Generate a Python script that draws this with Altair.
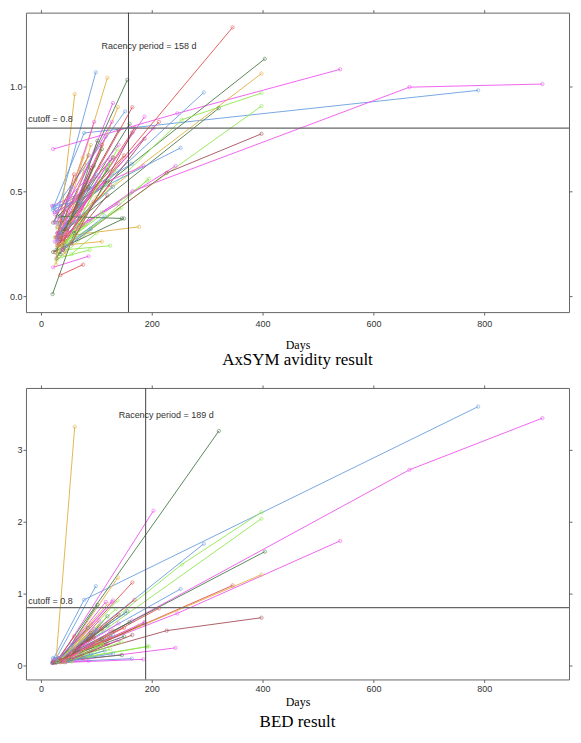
import altair as alt
import pandas as pd

# lattice-like colours
palette = {"B": "#6a9ee0", "M": "#ee55ee", "G": "#4a7a4a", "R": "#e05050",
           "O": "#e0b040", "L": "#8fe84f", "N": "#a34f5a"}

subject_colour = [
    "B", "M", "M", "R", "G", "O", "L", "L", "B", "G",
    "N", "B", "L", "O", "R", "M", "N", "M", "B", "M",
    "L", "B", "O", "O", "G", "M", "O", "R", "B", "M",
    "M", "M", "G", "R", "L", "M", "N", "G", "N", "R",
    "O", "L", "B", "M", "L", "O", "G", "L", "R", "G",
    "L", "B", "M", "B", "R", "O", "N", "G", "M", "L",
    "R", "B", "O", "N", "M", "G", "R", "L", "B", "O",
    "M", "N", "G", "R", "L", "M", "B", "N", "O", "G",
    "R", "M", "L", "B", "N",
]

subject_days = [
    [22, 78, 789], [22, 246, 540], [30, 165, 665, 905], [35, 346], [30, 404],
    [30, 398], [40, 254, 398], [35, 398], [30, 294], [28, 321],
    [30, 227, 398], [25, 252], [28, 195], [25, 177], [35, 213],
    [32, 187], [38, 187], [25, 243], [22, 164], [20, 185],
    [30, 192], [25, 99], [30, 120], [27, 61], [30, 156],
    [32, 130], [35, 139], [35, 165], [25, 152], [30, 96],
    [28, 128], [30, 203], [35, 102], [33, 169], [40, 138],
    [30, 117], [35, 140], [40, 160], [22, 86], [40, 110],
    [30, 75], [45, 125], [35, 130], [22, 86], [40, 125],
    [30, 110], [22, 150], [30, 88], [35, 76], [21, 60, 120],
    [55, 100], [40, 90], [25, 60], [22, 70], [25, 95],
    [35, 105], [40, 120], [30, 85], [45, 140], [50, 145],
    [28, 60], [45, 115], [42, 100], [28, 70], [38, 105],
    [50, 120], [45, 130], [35, 80], [28, 55], [40, 75],
    [33, 140], [45, 90], [35, 146], [30, 125], [55, 110],
    [25, 80], [30, 100], [35, 95], [45, 90], [28, 110],
    [38, 150], [42, 125], [30, 135], [50, 130], [55, 165],
]

avidity = [
    [0.42, 0.777, 0.98], [0.70, 0.87, 1.08], [0.25, 0.50, 0.995, 1.01], [0.30, 1.28], [0.35, 1.13],
    [0.32, 1.06], [0.30, 0.84, 0.967], [0.22, 0.905], [0.33, 0.97], [0.28, 0.895],
    [0.20, 0.587, 0.773], [0.40, 0.706], [0.17, 0.559], [0.28, 0.33], [0.32, 0.83],
    [0.26, 0.855], [0.24, 0.75], [0.26, 0.62], [0.41, 0.63], [0.43, 0.62],
    [0.23, 0.55], [0.35, 1.066], [0.25, 1.04], [0.15, 0.962], [0.30, 1.03],
    [0.28, 0.92], [0.22, 0.90], [0.28, 0.90], [0.42, 0.88], [0.30, 0.83],
    [0.35, 0.83], [0.30, 0.80], [0.20, 0.74], [0.25, 0.80], [0.22, 0.70],
    [0.27, 0.76], [0.29, 0.79], [0.31, 0.82], [0.35, 0.67], [0.26, 0.72],
    [0.33, 0.66], [0.25, 0.63], [0.30, 0.66], [0.137, 0.19], [0.22, 0.24],
    [0.24, 0.26], [0.21, 0.37], [0.18, 0.22], [0.10, 0.15], [0.01, 0.30, 0.55],
    [0.20, 0.30], [0.22, 0.32], [0.39, 0.46], [0.43, 0.45], [0.21, 0.45],
    [0.28, 0.55], [0.22, 0.48], [0.38, 0.52], [0.30, 0.44], [0.26, 0.42],
    [0.28, 0.58], [0.24, 0.38], [0.20, 0.47], [0.18, 0.38], [0.22, 0.57],
    [0.35, 0.60], [0.40, 0.66], [0.24, 0.34], [0.26, 0.52], [0.25, 0.35],
    [0.37, 0.72], [0.32, 0.61], [0.38, 0.37], [0.24, 0.53], [0.28, 0.40],
    [0.40, 0.55], [0.28, 0.58], [0.27, 0.62], [0.30, 0.72], [0.22, 0.70],
    [0.35, 0.67], [0.29, 0.65], [0.20, 0.60], [0.33, 0.52], [0.25, 0.78],
]

bed = [
    [0.08, 0.91, 3.60], [0.05, 0.72, 1.73], [0.05, 0.62, 2.72, 3.44], [0.06, 1.11], [0.07, 1.58],
    [0.05, 1.26], [0.08, 1.40, 2.13], [0.05, 2.04], [0.06, 1.69], [0.05, 3.26],
    [0.05, 0.48, 0.66], [0.08, 1.06], [0.04, 0.26], [0.06, 0.55], [0.06, 0.79],
    [0.05, 0.60], [0.05, 0.58], [0.03, 0.24], [0.04, 0.09], [0.03, 0.08],
    [0.05, 0.26], [0.06, 1.10], [0.07, 0.85], [0.04, 3.32], [0.06, 0.75],
    [0.05, 0.90], [0.06, 1.22], [0.07, 1.15], [0.08, 0.72], [0.05, 0.50],
    [0.06, 0.88], [0.05, 2.15], [0.06, 0.84], [0.06, 0.91], [0.06, 0.90],
    [0.05, 0.88], [0.07, 0.70], [0.07, 0.60], [0.05, 0.35], [0.06, 0.50],
    [0.05, 0.40], [0.06, 0.45], [0.05, 0.42], [0.03, 0.06], [0.05, 0.22],
    [0.05, 0.30], [0.04, 0.40], [0.04, 0.12], [0.04, 0.10], [0.03, 0.20, 0.55],
    [0.05, 0.25], [0.05, 0.15], [0.06, 0.12], [0.10, 0.18], [0.04, 0.38],
    [0.07, 0.55], [0.05, 0.30], [0.06, 0.52], [0.05, 0.35], [0.06, 0.32],
    [0.05, 0.40], [0.04, 0.20], [0.04, 0.33], [0.04, 0.22], [0.05, 0.62],
    [0.07, 0.68], [0.08, 0.48], [0.05, 0.18], [0.05, 0.28], [0.05, 0.20],
    [0.06, 0.58], [0.06, 0.45], [0.06, 0.14], [0.05, 0.38], [0.06, 0.28],
    [0.07, 0.30], [0.05, 0.48], [0.06, 0.40], [0.05, 0.58], [0.04, 0.36],
    [0.07, 0.52], [0.05, 0.46], [0.05, 0.78], [0.06, 0.16], [0.08, 0.42],
]

x_ticks = [0, 200, 400, 600, 800]
avidity_ticks = [0.0, 0.5, 1.0]
bed_ticks = [0, 1, 2, 3]
cutoff = 0.8
recency_avidity = 158
recency_bed = 189

rows = []
for i, (c, d, a, b) in enumerate(zip(subject_colour, subject_days, avidity, bed)):
    for j in range(len(d)):
        rows.append({"subject": i, "colour": palette[c], "day": d[j],
                     "avidity": a[j], "bed": b[j], "order": j})
df = pd.DataFrame(rows)

XDOM = [-27, 953]
W = 544


def panel(field, ydomain, yticks, yfmt, recency, rec_label_y, cut_label_y,
          title, height, label_pad, title_pad, title_offset):
    xs = alt.Scale(domain=XDOM, nice=False, zero=False)
    ys = alt.Scale(domain=ydomain, nice=False, zero=False)
    base = alt.Chart(df)
    lines = base.mark_line(strokeWidth=0.9).encode(
        x=alt.X("day:Q", scale=xs,
                axis=alt.Axis(values=x_ticks, format="d", title="Days",
                              labelPadding=label_pad, titlePadding=title_pad)),
        y=alt.Y(f"{field}:Q", scale=ys,
                axis=alt.Axis(values=yticks, format=yfmt, title=None, labelPadding=1)),
        detail="subject:N",
        order="order:Q",
        color=alt.Color("colour:N", scale=None),
    )
    pts = base.mark_point(shape="circle", size=11, filled=False, strokeWidth=0.8).encode(
        x=alt.X("day:Q", scale=xs, axis=None),
        y=alt.Y(f"{field}:Q", scale=ys, axis=None),
        color=alt.Color("colour:N", scale=None),
    )
    frame_axes = base.mark_point(opacity=0).encode(
        x=alt.X("day:Q", scale=xs,
                axis=alt.Axis(orient="top", values=x_ticks, labels=False, title=None)),
        y=alt.Y(f"{field}:Q", scale=ys,
                axis=alt.Axis(orient="right", values=yticks, labels=False, title=None)),
    )
    vrule = alt.Chart(pd.DataFrame({"d": [recency]})).mark_rule(
        color="#444", strokeWidth=1).encode(x=alt.X("d:Q", scale=xs, axis=None))
    hrule = alt.Chart(pd.DataFrame({"v": [cutoff]})).mark_rule(
        color="#666", strokeWidth=1.2).encode(y=alt.Y("v:Q", scale=ys, axis=None))
    rec_text = alt.Chart(pd.DataFrame({
        "d": [recency + 37], "v": [rec_label_y],
        "t": [f"Racency period = {recency} d"]})).mark_text(
        font="Liberation Sans", fontSize=9, color="#333", align="center").encode(
        x=alt.X("d:Q", scale=xs, axis=None), y=alt.Y("v:Q", scale=ys, axis=None), text="t:N")
    cut_text = alt.Chart(pd.DataFrame({
        "d": [-23], "v": [cut_label_y], "t": [f"cutoff = {cutoff}"]})).mark_text(
        font="Liberation Sans", fontSize=9, color="#333", align="left").encode(
        x=alt.X("d:Q", scale=xs, axis=None), y=alt.Y("v:Q", scale=ys, axis=None), text="t:N")
    return alt.layer(lines, pts, frame_axes, vrule, hrule, rec_text, cut_text).resolve_axis(
        x="independent", y="independent").properties(
        width=W, height=height,
        title=alt.TitleParams(title, orient="bottom", font="Liberation Serif",
                              fontSize=17, fontWeight="normal", color="#000",
                              offset=title_offset),
    )


top = panel("avidity", [-0.076, 1.35], avidity_ticks, ".1f", recency_avidity,
            1.19, 0.845, "AxSYM avidity result", 300, 4, 11, 2)
bottom = panel("bed", [-0.2, 3.86], bed_ticks, "d", recency_bed,
               3.49, 0.89, "BED result", 292, 2, 3, 7)

chart = alt.vconcat(top, bottom, spacing=15).properties(padding=0).configure_view(
    stroke="#666", strokeWidth=1).configure_axis(
    labelFont="Liberation Sans", labelFontSize=9, labelColor="#333",
    tickColor="#666", tickSize=3, domain=False, grid=False,
    titleFont="Liberation Serif", titleFontSize=12, titleFontWeight="normal",
    titleColor="#000").configure_title(anchor="middle")

chart.save("out.html", embed_options={"renderer": "svg", "actions": False})
